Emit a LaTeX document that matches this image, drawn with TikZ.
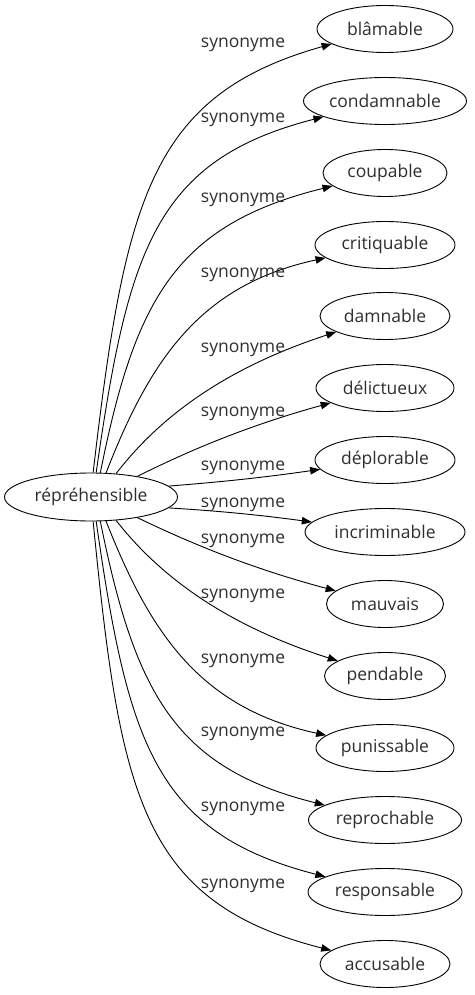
\documentclass[tikz,border=0pt]{standalone}
\usepackage{fontspec}
\setmainfont{Open Sans}
\usetikzlibrary{arrows.meta,shapes.geometric}
\newcommand\lblfont{\fontsize{17.5}{21}\selectfont}
\begin{document}
\begin{tikzpicture}[x=1pt,y=-1pt,
  every node/.style={font=\lblfont, text=black!82},
  term/.style={draw=black, ellipse, inner sep=0pt, minimum height=47pt, line width=0.9pt},
  rel/.style={anchor=base},
  link/.style={line width=0.9pt, -{Triangle[length=10pt,width=7.5pt]}}]
\useasboundingbox (0,0) rectangle (474,995);
\node[term, minimum width=173pt, minimum height=48pt] (c) at (91,497) {répréhensible};
\foreach \name/\txt/\y/\w in {t0/blâmable/29/136, t1/condamnable/101/163, t2/coupable/173/124,
  t3/critiquable/245/140, t4/damnable/316/130, t5/délictueux/388/138, t6/déplorable/460/140,
  t7/incriminable/532/160, t8/mauvais/604/117, t9/pendable/676/121, t10/punissable/748/138,
  t11/reprochable/820/153, t12/responsable/892/154, t13/accusable/964/130}{
  \node[term, minimum width=\w pt] (\name) at (385,\y) {\txt};
}
\foreach \name/\a/\px/\py/\qx/\qy/\ly in {
  t0/85/125/200/150/95/43, t1/78/128/250/155/160/118, t2/69/135/300/175/225/197,
  t3/58/150/360/200/285/272, t4/43/165/410/235/365/347, t5/24/190/450/250/425/411,
  t6/8/220/482/260/478/465, t7/-8/220/511/260/515/502, t8/-24/190/543/250/568/538,
  t9/-43/165/583/235/628/593, t10/-58/150/633/200/708/658, t11/-69/135/693/175/768/731,
  t12/-78/128/743/155/833/806, t13/-85/120/793/140/902/883}{
  \draw[link] (c.\a) .. controls (\px,\py) and (\qx,\qy) .. (\name);
  \node[rel] (l\name) at (243,\ly+5) {synonyme};
}
\end{tikzpicture}
\end{document}
